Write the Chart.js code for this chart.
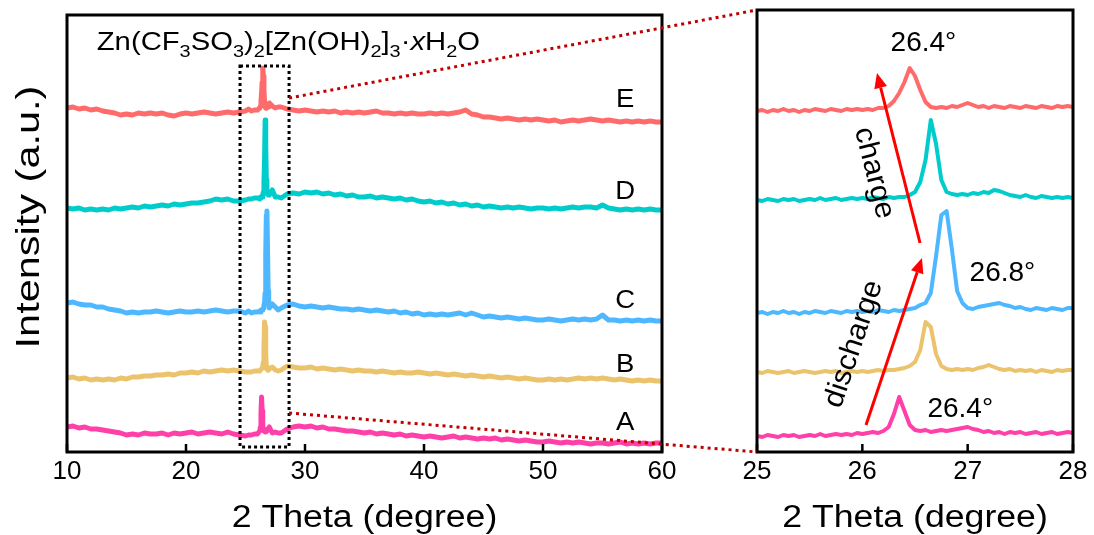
<!DOCTYPE html>
<html lang="en">
<head>
<meta charset="UTF-8">
<title>XRD patterns</title>
<script src="https://cdn.jsdelivr.net/npm/chart.js@4.4.0/dist/chart.umd.min.js"></script>
<style>
  body { margin: 0; background: #fff; }
  #wrap { position: relative; width: 1094px; height: 535px; }
  #wrap canvas { position: absolute; top: 0; }
</style>
</head>
<body>
<div id="wrap">
  <canvas id="leftChart" width="700" height="535" style="left:0"></canvas>
  <canvas id="rightChart" width="394" height="535" style="left:700px"></canvas>
  <canvas id="links" width="1094" height="535" style="left:0;pointer-events:none"></canvas>
</div>
<script>
// ---- data (2 theta in degree, intensity in a.u.) ----
const SAMPLES = ['A', 'B', 'C', 'D', 'E'];
const COLORS  = ['#ff40a8', '#ebc36d', '#4db8ff', '#00cccc', '#ff6b6b'];
const OFFSETS = [19, 80, 141, 252, 340];   // stacking offsets

const LOW_X = [10, 10.5, 11, 11.5, 12, 12.5, 13, 13.5, 14, 14.5,
  15, 15.5, 16, 16.5, 17, 17.5, 18, 18.5, 19, 19.5,
  20, 20.5, 21, 21.5, 22, 22.5, 23, 23.5, 24, 24.5];
const FINE_X = [25.00, 25.05, 25.10, 25.15, 25.20, 25.25, 25.30, 25.35, 25.40, 25.45,
  25.50, 25.55, 25.60, 25.65, 25.70, 25.75, 25.80, 25.85, 25.90, 25.95,
  26.00, 26.05, 26.10, 26.15, 26.20, 26.25, 26.30, 26.35, 26.40, 26.45,
  26.50, 26.55, 26.60, 26.65, 26.70, 26.75, 26.80, 26.85, 26.90, 26.95,
  27.00, 27.05, 27.10, 27.15, 27.20, 27.25, 27.30, 27.35, 27.40, 27.45,
  27.50, 27.55, 27.60, 27.65, 27.70, 27.75, 27.80, 27.85, 27.90, 27.95,
  28.00];
const HIGH_X = [28.5, 29, 29.5, 30, 30.5, 31, 31.5, 32, 32.5, 33,
  33.5, 34, 34.5, 35, 35.5, 36, 36.5, 37, 37.5, 38,
  38.5, 39, 39.5, 40, 40.5, 41, 41.5, 42, 42.5, 43,
  43.5, 44, 44.5, 45, 45.5, 46, 46.5, 47, 47.5, 48,
  48.5, 49, 49.5, 50, 50.5, 51, 51.5, 52, 52.5, 53,
  53.5, 54, 54.5, 55, 55.5, 56, 56.5, 57, 57.5, 58,
  58.5, 59, 59.5, 60];

const A_LOW = [6, 7, 5, 6, 4, 4, 3, 2, 1, 0,
  -2, -1, -2, 0, -1, -1, 0, -2, 0, -1,
  0, 1, -1, 0, 1, 0, -1, 1, -1, -2];
const A_FINE = [-3, -4, -2, -3, -4, -2, -3, -2, -4, -3,
  -2, -3, -1, -3, -2, -1, -2, -1, -2, 0,
  -1, 0, 1, 0, 2, 6, 19, 36, 22, 8,
  3, 2, 3, 1, 2, 3, 2, 3, 4, 5,
  6, 4, 3, 1, 2, 0, 1, -1, 1, 0,
  1, -1, 0, 1, -1, 0, 1, -1, 0, 1,
  0];
const A_HIGH = [4, 6, 7, 6, 7, 5, 6, 4, 4, 3,
  2, 2, 1, 0, 1, -1, 0, -1, -2, -1,
  -3, -2, -3, -4, -3, -4, -5, -4, -3, -5,
  -4, -5, -6, -5, -6, -5, -7, -6, -7, -8,
  -7, -8, -9, -9, -8, -9, -10, -9, -10, -9,
  -10, -11, -10, -10, -11, -10, -9, -11, -10, -11,
  -10, -11, -10, -10];

const B_LOW = [-6, -5, -7, -6, -8, -7, -8, -7, -8, -6,
  -7, -5, -5, -4, -4, -3, -3, -2, -3, -1,
  -1, 0, -1, 1, 0, 1, 2, 1, 2, 1];
const B_FINE = [0, -1, 1, 0, -1, 0, 1, -1, 0, 1,
  0, -1, 0, 1, 0, 1, -1, 0, 1, 0,
  1, 0, 1, 2, 1, 2, 2, 3, 4, 6,
  10, 22, 50, 45, 18, 6, 3, 2, 3, 2,
  3, 2, 4, 5, 7, 5, 3, 2, 3, 1,
  2, 1, 2, 0, 2, 1, 0, 2, 1, 2,
  2];
const B_HIGH = [6, 5, 4, 4, 5, 3, 4, 3, 2, 3,
  2, 1, 2, 1, 1, 0, 1, 0, -1, 0,
  -1, -1, 0, -1, -2, -1, -2, -3, -2, -3,
  -4, -3, -4, -5, -4, -5, -6, -5, -6, -7,
  -6, -7, -8, -8, -7, -8, -7, -8, -7, -6,
  -7, -6, -7, -6, -7, -8, -7, -8, -9, -8,
  -9, -8, -9, -9];

const C_LOW = [8, 9, 7, 6, 6, 4, 4, 2, 1, 0,
  -2, -1, -2, -1, -1, 0, -1, -2, -1, 0,
  -1, -1, 0, -1, 0, 1, 0, -1, 0, 0];
const C_FINE = [-2, -1, -3, -1, -2, 0, -2, -1, -3, -1,
  -2, 0, -1, -2, 0, -1, -2, 0, -1, 0,
  -1, 0, -1, 1, 0, -1, 1, 0, 1, 2,
  3, 6, 8, 18, 55, 96, 100, 62, 20, 8,
  3, 2, 4, 5, 6, 7, 8, 6, 5, 3,
  4, 2, 1, 3, 2, 1, 3, 2, 1, 3,
  3];
const C_HIGH = [6, 7, 5, 4, 5, 4, 3, 4, 3, 2,
  2, 1, 2, 1, 0, 1, 0, -1, 0, -2,
  -1, -3, -2, -4, -3, -4, -3, -4, -3, -2,
  -4, -2, -4, -6, -5, -6, -7, -6, -7, -8,
  -7, -8, -9, -9, -8, -9, -10, -9, -8, -9,
  -8, -9, -8, -4, -9, -9, -10, -9, -10, -9,
  -10, -9, -10, -10];

const D_LOW = [-8, -9, -8, -10, -9, -10, -9, -10, -8, -9,
  -8, -7, -8, -6, -7, -6, -5, -6, -4, -5,
  -4, -3, -3, -2, -1, 1, 0, 1, -1, -1];
const D_FINE = [0, -1, 1, 0, -1, 1, 0, 1, -1, 0,
  1, 0, 2, 0, 1, 2, 0, 1, 2, 1,
  2, 1, 3, 2, 1, 3, 2, 3, 3, 5,
  8, 18, 40, 80, 56, 20, 8, 6, 5, 6,
  5, 7, 6, 8, 7, 10, 9, 7, 5, 4,
  3, 5, 3, 2, 4, 3, 2, 3, 2, 3,
  2];
const D_HIGH = [6, 7, 6, 8, 7, 8, 6, 7, 5, 6,
  4, 5, 3, 3, 4, 2, 3, 2, 1, 2,
  0, 1, -1, -2, -1, -3, -2, -4, -3, -5,
  -4, -6, -5, -7, -6, -7, -8, -7, -8, -7,
  -8, -9, -8, -8, -9, -8, -9, -8, -7, -8,
  -7, -7, -8, -5, -8, -9, -10, -9, -10, -9,
  -10, -9, -10, -10];

const E_LOW = [4, 5, 3, 4, 2, 3, 1, 0, -1, -3,
  -2, -3, -1, -2, -1, -2, -1, -3, -4, -2,
  -1, -2, -1, 0, -1, -2, -1, 0, -1, 0];
const E_FINE = [1, 2, 0, 2, 1, 3, 1, 2, 0, 2,
  1, 3, 2, 1, 3, 2, 1, 3, 2, 3,
  2, 3, 2, 4, 4, 6, 11, 19, 30, 44,
  36, 22, 10, 5, 4, 5, 4, 6, 5, 7,
  9, 7, 5, 6, 4, 6, 5, 4, 6, 5,
  4, 6, 5, 4, 6, 5, 4, 6, 5, 6,
  5];
const E_HIGH = [3, 2, 1, 2, 1, 0, 1, 0, 1, -1,
  0, -1, 0, -1, 0, 1, -1, -1, -2, -1,
  -2, -1, -2, -2, -1, -2, -1, -2, -1, 0,
  2, -2, -3, -5, -5, -6, -7, -6, -7, -8,
  -7, -8, -7, -8, -9, -8, -10, -9, -8, -9,
  -8, -7, -8, -9, -8, -9, -10, -9, -10, -9,
  -10, -9, -10, -10];

const LOW  = [A_LOW, B_LOW, C_LOW, D_LOW, E_LOW];
const FINE = [A_FINE, B_FINE, C_FINE, D_FINE, E_FINE];
const HIGH = [A_HIGH, B_HIGH, C_HIGH, D_HIGH, E_HIGH];

// annotations (data coordinates)
const LETTER_POS = [[56.9, 29], [56.9, 87], [56.9, 151], [56.9, 260], [56.9, 352]];
const ZOOM_BOX = { x1: 24.54, x2: 28.66, y1: 5, y2: 386 };
const LINK_Y = { top: 354, bottom: 39 };
const PEAK_WINDOW = [26.2, 26.95];   // full resolution kept here in the overview panel
const PEAK_LABELS = [
  { text: '26.4°', x: 26.58, y: 409 },
  { text: '26.8°', x: 27.33, y: 179 },
  { text: '26.4°', x: 26.93, y: 43 }
];
const ARROWS = [
  { from: [26.035, 27], to: [26.566, 194] },   // discharge
  { from: [26.548, 209], to: [26.139, 379] }   // charge
];
const ARROW_TEXT = [
  { text: 'discharge', x: 25.92, y: 108, up: true },
  { text: 'charge', x: 26.11, y: 279, up: false }
];

const FONT = '"Liberation Sans", Arial, sans-serif';

function pts(xs, ys, off) {
  return xs.map((x, i) => ({ x: x, y: ys[i] + off }));
}

function textAt(ctx, str, x, y, size, sx, rot, align) {
  ctx.save();
  ctx.translate(x, y);
  if (rot) ctx.rotate(rot);
  ctx.scale(sx, 1);
  ctx.font = size + 'px ' + FONT;
  ctx.fillStyle = '#000';
  ctx.textAlign = align || 'center';
  ctx.textBaseline = 'middle';
  ctx.fillText(str, 0, 0);
  ctx.restore();
}

function frame(chart) {
  const ctx = chart.ctx, a = chart.chartArea, sx = chart.scales.x;
  ctx.save();
  ctx.strokeStyle = '#000';
  ctx.lineWidth = 3;
  ctx.strokeRect(a.left, a.top, a.right - a.left, a.bottom - a.top);
  // inward ticks
  ctx.lineWidth = 2.5;
  sx.ticks.forEach(t => {
    const px = sx.getPixelForValue(t.value);
    ctx.beginPath();
    ctx.moveTo(px, a.bottom);
    ctx.lineTo(px, a.bottom - 8);
    ctx.stroke();
  });
  ctx.restore();
  textAt(ctx, '2 Theta (degree)', (a.left + a.right) / 2, a.bottom + 66, 31, 1.15, 0);
}

const leftDecor = {
  id: 'leftDecor',
  afterDatasetsDraw(chart) {
    const ctx = chart.ctx, x = chart.scales.x, y = chart.scales.y;
    // dotted zoom box
    ctx.save();
    ctx.strokeStyle = '#000';
    ctx.lineWidth = 3;
    ctx.setLineDash([3, 3]);
    const bx1 = x.getPixelForValue(ZOOM_BOX.x1), bx2 = x.getPixelForValue(ZOOM_BOX.x2);
    const by1 = y.getPixelForValue(ZOOM_BOX.y2), by2 = y.getPixelForValue(ZOOM_BOX.y1);
    ctx.strokeRect(bx1, by1, bx2 - bx1, by2 - by1);
    ctx.restore();

    frame(chart);

    SAMPLES.forEach((s, i) => {
      textAt(ctx, s, x.getPixelForValue(LETTER_POS[i][0]), y.getPixelForValue(LETTER_POS[i][1]), 25, 1.1, 0);
    });

    // formula with subscripts
    const parts = [['Zn(CF', 0], ['3', 1], ['SO', 0], ['3', 1], [')', 0], ['2', 1], ['[Zn(OH)', 0], ['2', 1],
      [']', 0], ['3', 1], ['·', 0], ['x', 2], ['H', 0], ['2', 1], ['O', 0]];
    ctx.save();
    ctx.translate(x.getPixelForValue(12.5), y.getPixelForValue(402));
    ctx.scale(1.17, 1);
    ctx.fillStyle = '#000';
    ctx.textBaseline = 'alphabetic';
    ctx.textAlign = 'left';
    let cx = 0;
    parts.forEach(p => {
      ctx.font = (p[1] === 1 ? '17px ' : p[1] === 2 ? 'italic 25px ' : '25px ') + FONT;
      ctx.fillText(p[0], cx, p[1] === 1 ? 7 : 0);
      cx += ctx.measureText(p[0]).width;
    });
    ctx.restore();

    textAt(ctx, 'Intensity (a.u.)', 30, 217, 34, 1.22, -Math.PI / 2);
  }
};

const rightDecor = {
  id: 'rightDecor',
  afterDatasetsDraw(chart) {
    const ctx = chart.ctx, x = chart.scales.x, y = chart.scales.y;
    frame(chart);
    PEAK_LABELS.forEach(l => textAt(ctx, l.text, x.getPixelForValue(l.x), y.getPixelForValue(l.y), 28, 1, 0));

    ctx.save();
    ctx.strokeStyle = '#ff0000';
    ctx.fillStyle = '#ff0000';
    ctx.lineWidth = 3;
    ARROWS.forEach(ar => {
      const x0 = x.getPixelForValue(ar.from[0]), y0 = y.getPixelForValue(ar.from[1]);
      const x1 = x.getPixelForValue(ar.to[0]), y1 = y.getPixelForValue(ar.to[1]);
      const ang = Math.atan2(y1 - y0, x1 - x0);
      const hl = 15, hw = 6.5;
      const bx = x1 - hl * Math.cos(ang), by = y1 - hl * Math.sin(ang);
      ctx.beginPath();
      ctx.moveTo(x0, y0);
      ctx.lineTo(bx, by);
      ctx.stroke();
      ctx.beginPath();
      ctx.moveTo(x1, y1);
      ctx.lineTo(bx + hw * Math.sin(ang), by - hw * Math.cos(ang));
      ctx.lineTo(bx - hw * Math.sin(ang), by + hw * Math.cos(ang));
      ctx.closePath();
      ctx.fill();
    });
    ctx.restore();

    ARROW_TEXT.forEach((t, i) => {
      const ar = ARROWS[i];
      const dx = x.getPixelForValue(ar.to[0]) - x.getPixelForValue(ar.from[0]);
      const dy = y.getPixelForValue(ar.to[1]) - y.getPixelForValue(ar.from[1]);
      let ang = Math.atan2(dy, dx);
      if (!t.up) ang += Math.PI;   // "charge" reads downwards
      textAt(ctx, t.text, x.getPixelForValue(t.x), y.getPixelForValue(t.y), 29, 1.05, ang);
    });
  }
};

function makeChart(id, datasets, xmin, xmax, ymax, pad, yWidth, width, decor) {
  return new Chart(document.getElementById(id), {
    type: 'line',
    data: { datasets: datasets },
    options: {
      responsive: false,
      animation: false,
      events: [],
      layout: { padding: pad },
      plugins: { legend: { display: false }, tooltip: { enabled: false } },
      elements: { point: { radius: 0 }, line: { borderWidth: width, tension: 0, borderJoinStyle: 'round' } },
      scales: {
        x: {
          type: 'linear', min: xmin, max: xmax,
          ticks: { stepSize: xmin === 10 ? 10 : 1, color: '#000', padding: 4, maxRotation: 0,
                   font: { family: FONT, size: 26 } },
          grid: { display: false, drawTicks: false },
          border: { display: false },
          afterFit: s => { s.height = 83; }
        },
        y: {
          min: 0, max: ymax,
          ticks: { display: false },
          grid: { display: false, drawTicks: false },
          border: { display: false },
          afterFit: s => { s.width = yWidth; }
        }
      }
    },
    plugins: [decor]
  });
}

// overview panel: fine scan thinned to 0.25 degree outside the peak window
function overviewFine(i) {
  return pts(FINE_X, FINE[i], OFFSETS[i]).filter((p, k) =>
    k % 5 === 0 || (p.x >= PEAK_WINDOW[0] && p.x <= PEAK_WINDOW[1]));
}

const leftSets = SAMPLES.map((s, i) => ({
  label: s,
  data: pts(LOW_X, LOW[i], OFFSETS[i]).concat(overviewFine(i), pts(HIGH_X, HIGH[i], OFFSETS[i])),
  borderColor: COLORS[i]
}));
const rightSets = SAMPLES.map((s, i) => ({
  label: s,
  data: pts(FINE_X, FINE[i], OFFSETS[i]),
  borderColor: COLORS[i]
}));

const leftChart = makeChart('leftChart', leftSets, 10, 60, 437, { top: 15, right: 38, left: 0, bottom: 0 }, 67, 5, leftDecor);
const rightChart = makeChart('rightChart', rightSets, 25, 28, 442, { top: 10, right: 21, left: 0, bottom: 0 }, 57, 4, rightDecor);

// red dotted lines linking the zoom box to the right panel
function drawLinks() {
  const cv = document.getElementById('links');
  const ctx = cv.getContext('2d');
  const lx = leftChart.scales.x.getPixelForValue(ZOOM_BOX.x2) + leftChart.canvas.offsetLeft;
  const ly1 = leftChart.scales.y.getPixelForValue(LINK_Y.top);
  const ly2 = leftChart.scales.y.getPixelForValue(LINK_Y.bottom);
  const ra = rightChart.chartArea, ro = rightChart.canvas.offsetLeft;
  ctx.clearRect(0, 0, cv.width, cv.height);
  ctx.strokeStyle = '#c00000';
  ctx.lineWidth = 3;
  ctx.setLineDash([3, 4]);
  ctx.beginPath();
  ctx.moveTo(lx, ly1);
  ctx.lineTo(ra.left + ro, ra.top);
  ctx.moveTo(lx, ly2);
  ctx.lineTo(ra.left + ro, ra.bottom);
  ctx.stroke();
}
drawLinks();
</script>
</body>
</html>
